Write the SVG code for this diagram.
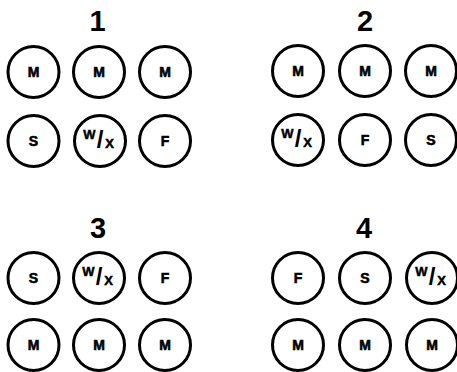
<svg xmlns="http://www.w3.org/2000/svg" width="457" height="372" viewBox="0 0 457 372">
<style>
.c{fill:#fff;stroke:#000;stroke-width:3}
.t{font-family:"Liberation Sans",Arial,sans-serif;font-weight:bold;font-size:14px;text-anchor:middle;fill:#000;stroke:#000;stroke-width:0.6}
.w{font-family:"Liberation Sans",Arial,sans-serif;font-weight:bold;font-size:13px;text-anchor:middle;fill:#000;stroke:#000;stroke-width:0.5}
.sl{font-family:"Liberation Sans",Arial,sans-serif;font-weight:bold;font-size:24px;text-anchor:middle;fill:#000}
.n{font-family:"Liberation Sans",Arial,sans-serif;font-weight:bold;font-size:29px;text-anchor:middle;fill:#000}
</style>
<defs>
<g id="cM"><circle class="c" r="25.5"/><text class="t" y="5">M</text></g>
<g id="cS"><circle class="c" r="25.5"/><text class="t" y="5">S</text></g>
<g id="cF"><circle class="c" r="25.5"/><text class="t" y="5">F</text></g>
<g id="cW"><circle class="c" r="25.5"/><text class="w" x="-10.5" y="-2">W</text><text class="sl" x="0" y="6.5">/</text><text class="w" x="9.5" y="6.5">X</text></g>
</defs>
<g id="group1">
<text class="n" x="97.5" y="31">1</text>
<g id="g1-m1"><use href="#cM" x="33.5" y="72"/></g>
<g id="g1-m2"><use href="#cM" x="99" y="72"/></g>
<g id="g1-m3"><use href="#cM" x="165" y="72"/></g>
<g id="g1-s"><use href="#cS" x="33.5" y="141"/></g>
<g id="g1-wx"><use href="#cW" x="100" y="141"/></g>
<g id="g1-f"><use href="#cF" x="165" y="141"/></g>
</g>
<g id="group2">
<text class="n" x="365" y="31">2</text>
<g id="g2-m1"><use href="#cM" x="298" y="71"/></g>
<g id="g2-m2"><use href="#cM" x="365" y="71"/></g>
<g id="g2-m3"><use href="#cM" x="431" y="71"/></g>
<g id="g2-wx"><use href="#cW" x="298" y="140"/></g>
<g id="g2-f"><use href="#cF" x="365" y="140"/></g>
<g id="g2-s"><use href="#cS" x="431" y="140"/></g>
</g>
<g id="group3">
<text class="n" x="98" y="238">3</text>
<g id="g3-s"><use href="#cS" x="33.5" y="278"/></g>
<g id="g3-wx"><use href="#cW" x="99" y="278"/></g>
<g id="g3-f"><use href="#cF" x="165" y="278"/></g>
<g id="g3-m1"><use href="#cM" x="33.5" y="345"/></g>
<g id="g3-m2"><use href="#cM" x="99" y="345"/></g>
<g id="g3-m3"><use href="#cM" x="165" y="345"/></g>
</g>
<g id="group4">
<text class="n" x="364" y="238">4</text>
<g id="g4-f"><use href="#cF" x="298" y="278"/></g>
<g id="g4-s"><use href="#cS" x="365" y="278"/></g>
<g id="g4-wx"><use href="#cW" x="432" y="278"/></g>
<g id="g4-m1"><use href="#cM" x="298" y="345"/></g>
<g id="g4-m2"><use href="#cM" x="365" y="345"/></g>
<g id="g4-m3"><use href="#cM" x="432" y="345"/></g>
</g>
<g id="connectors"/>
</svg>
